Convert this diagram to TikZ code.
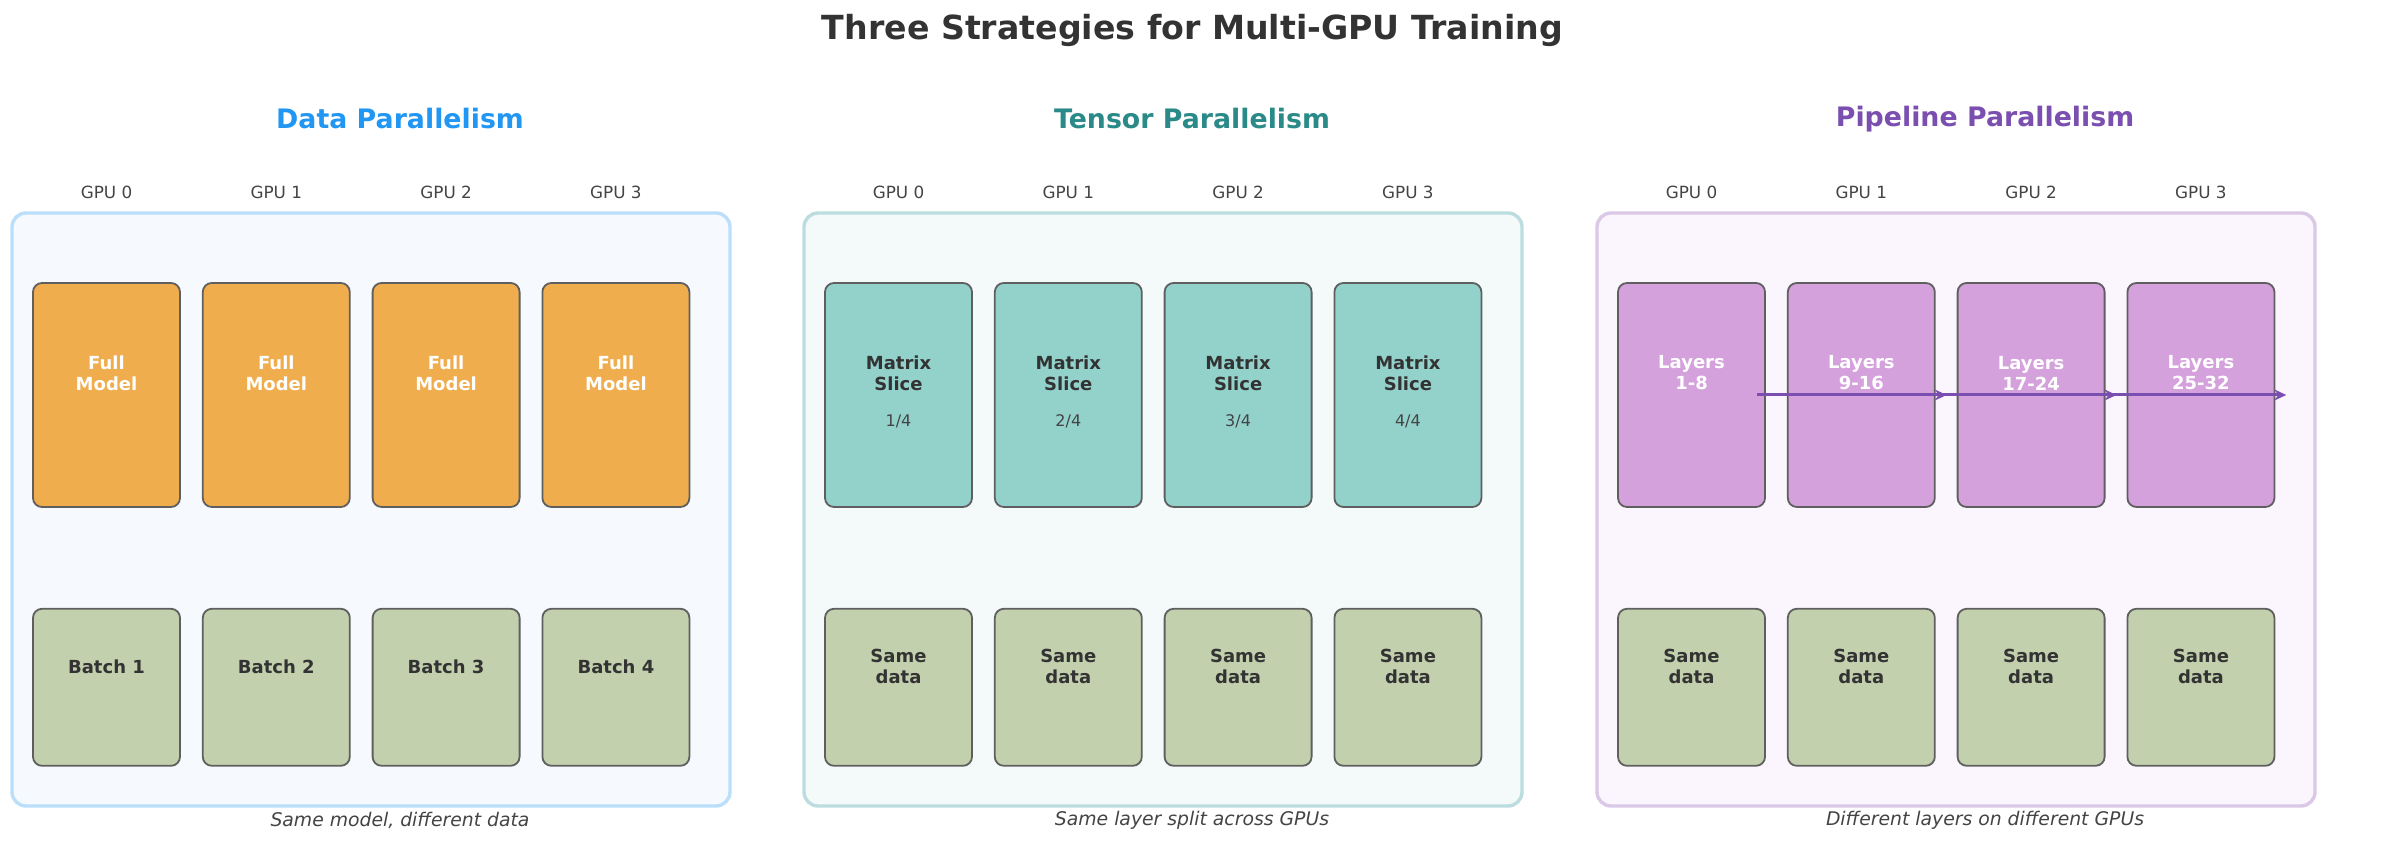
\documentclass[tikz,border=0pt]{standalone}
\usepackage{fontspec}
\setmainfont{DejaVu Sans}
\usepackage{tikz}
\usetikzlibrary{arrows.meta,positioning}
\definecolor{TitleGray}{HTML}{333333}
\definecolor{LabelGray}{HTML}{444444}
\definecolor{EdgeGray}{HTML}{5F5F5F}
\definecolor{DataBlue}{HTML}{2196F3}
\definecolor{TensorTeal}{HTML}{2A8A88}
\definecolor{PipePurple}{HTML}{7B4FB0}
\definecolor{DataEdge}{HTML}{BBDEFB}
\definecolor{DataFill}{HTML}{F6FAFE}
\definecolor{TensorEdge}{HTML}{BCDDDF}
\definecolor{TensorFill}{HTML}{F4FAFA}
\definecolor{PipeEdge}{HTML}{DAC8E6}
\definecolor{PipeFill}{HTML}{FBF6FD}
\definecolor{ModelOrange}{HTML}{F0AD4E}
\definecolor{SliceTeal}{HTML}{93D1CB}
\definecolor{LayerLilac}{HTML}{D4A1DC}
\definecolor{BatchGreen}{HTML}{C2D0AD}
\newcommand{\boxfont}{\fontsize{9}{10.5}\selectfont\bfseries}

\begin{document}
\begin{tikzpicture}[
  x=0.5pt,y=0.5pt,
  node distance=50pt and 10.5pt,
  every node/.style={align=center,inner sep=0pt},
  panel/.style={rounded corners=7pt,line width=1.7pt,minimum width=359pt,minimum height=296.5pt},
  topbox/.style={draw=EdgeGray,line width=0.9pt,rounded corners=4.5pt,minimum width=73.5pt,minimum height=112pt},
  botbox/.style={topbox,fill=BatchGreen,minimum height=78.5pt},
  head/.style={font=\fontsize{13.4}{16}\selectfont\bfseries},
  gpu/.style={font=\fontsize{8.4}{10}\selectfont,text=LabelGray},
  note/.style={font=\fontsize{9.4}{11}\selectfont\itshape,text=LabelGray},
  wtxt/.style={font=\boxfont,text=white,yshift=11pt},
  dtxt/.style={font=\boxfont,text=TitleGray,yshift=11pt},
  btxt/.style={font=\boxfont,text=TitleGray,yshift=10.25pt},
  frac/.style={font=\fontsize{8}{10}\selectfont,text=LabelGray,yshift=-13pt},
  flow/.style={-{Stealth[length=6pt,width=5.5pt]},line width=1.5pt,draw=PipePurple}
]
\useasboundingbox (0,0) rectangle (2385,849);
\node[font=\fontsize{16.6}{20}\selectfont\bfseries,text=TitleGray] (title) at (1192.5,819) {Three Strategies for Multi-GPU Training};

\node[panel,draw=DataEdge,fill=DataFill] (dpan) at (371,339.5) {};
\node[head,text=DataBlue] (dhead) at (400,730) {Data Parallelism};
\node[topbox,fill=ModelOrange,label={[wtxt]center:Full\\Model}] (d0) at (106.5,454) {};
\node[topbox,fill=ModelOrange,label={[wtxt]center:Full\\Model},right=of d0] (d1) {};
\node[topbox,fill=ModelOrange,label={[wtxt]center:Full\\Model},right=of d1] (d2) {};
\node[topbox,fill=ModelOrange,label={[wtxt]center:Full\\Model},right=of d2] (d3) {};
\node[botbox,label={[btxt]center:Batch 1},below=of d0] (db0) {};
\node[botbox,label={[btxt]center:Batch 2},below=of d1] (db1) {};
\node[botbox,label={[btxt]center:Batch 3},below=of d2] (db2) {};
\node[botbox,label={[btxt]center:Batch 4},below=of d3] (db3) {};
\node[gpu] (dg0) at ([yshift=45pt]d0.north) {GPU 0};
\node[gpu] (dg1) at ([yshift=45pt]d1.north) {GPU 1};
\node[gpu] (dg2) at ([yshift=45pt]d2.north) {GPU 2};
\node[gpu] (dg3) at ([yshift=45pt]d3.north) {GPU 3};
\node[note] (dnote) at (400,29) {Same model, different data};

\node[panel,draw=TensorEdge,fill=TensorFill] (tpan) at (1163,339.5) {};
\node[head,text=TensorTeal] (thead) at (1192,730) {Tensor Parallelism};
\node[topbox,fill=SliceTeal,label={[dtxt]center:Matrix\\Slice},label={[frac]center:1/4}] (t0) at (898.5,454) {};
\node[topbox,fill=SliceTeal,label={[dtxt]center:Matrix\\Slice},label={[frac]center:2/4},right=of t0] (t1) {};
\node[topbox,fill=SliceTeal,label={[dtxt]center:Matrix\\Slice},label={[frac]center:3/4},right=of t1] (t2) {};
\node[topbox,fill=SliceTeal,label={[dtxt]center:Matrix\\Slice},label={[frac]center:4/4},right=of t2] (t3) {};
\node[botbox,label={[btxt]center:Same\\data},below=of t0] (tb0) {};
\node[botbox,label={[btxt]center:Same\\data},below=of t1] (tb1) {};
\node[botbox,label={[btxt]center:Same\\data},below=of t2] (tb2) {};
\node[botbox,label={[btxt]center:Same\\data},below=of t3] (tb3) {};
\node[gpu] (tg0) at ([yshift=45pt]t0.north) {GPU 0};
\node[gpu] (tg1) at ([yshift=45pt]t1.north) {GPU 1};
\node[gpu] (tg2) at ([yshift=45pt]t2.north) {GPU 2};
\node[gpu] (tg3) at ([yshift=45pt]t3.north) {GPU 3};
\node[note] (tnote) at (1192,29) {Same layer split across GPUs};

\node[panel,draw=PipeEdge,fill=PipeFill] (ppan) at (1956,339.5) {};
\node[head,text=PipePurple] (phead) at (1985,730) {Pipeline Parallelism};
\node[topbox,fill=LayerLilac,label={[wtxt]center:Layers\\1-8}] (p0) at (1691.5,454) {};
\node[topbox,fill=LayerLilac,label={[wtxt]center:Layers\\9-16},right=of p0] (p1) {};
\node[topbox,fill=LayerLilac,label={[wtxt]center:Layers\\17-24},right=of p1] (p2) {};
\node[topbox,fill=LayerLilac,label={[wtxt]center:Layers\\25-32},right=of p2] (p3) {};
\node[botbox,label={[btxt]center:Same\\data},below=of p0] (pb0) {};
\node[botbox,label={[btxt]center:Same\\data},below=of p1] (pb1) {};
\node[botbox,label={[btxt]center:Same\\data},below=of p2] (pb2) {};
\node[botbox,label={[btxt]center:Same\\data},below=of p3] (pb3) {};
\node[gpu] (pg0) at ([yshift=45pt]p0.north) {GPU 0};
\node[gpu] (pg1) at ([yshift=45pt]p1.north) {GPU 1};
\node[gpu] (pg2) at ([yshift=45pt]p2.north) {GPU 2};
\node[gpu] (pg3) at ([yshift=45pt]p3.north) {GPU 3};
\node[note] (pnote) at (1985,29) {Different layers on different GPUs};
\draw[flow] ([xshift=-4.5pt]p0.east) -- ([xshift=5.5pt]p1.east);
\draw[flow] ([xshift=-4.5pt]p1.east) -- ([xshift=5.5pt]p2.east);
\draw[flow] ([xshift=-4.5pt]p2.east) -- ([xshift=5.5pt]p3.east);
\end{tikzpicture}
\end{document}
